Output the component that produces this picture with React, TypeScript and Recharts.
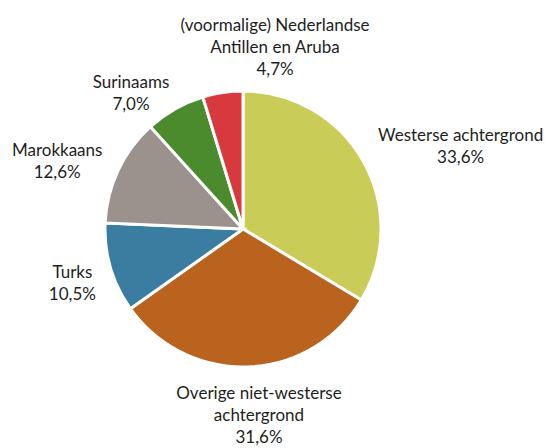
import React from 'react'
import { PieChart, Pie, Cell } from 'recharts'

// categorieën en aandelen (%)
const categories = [
  'Westerse achtergrond',
  'Overige niet-westerse achtergrond',
  'Turks',
  'Marokkaans',
  'Surinaams',
  '(voormalige) Nederlandse Antillen en Aruba'
]
const shares = [33.6, 31.6, 10.5, 12.6, 7.0, 4.7]

// labelregels zoals in het origineel afgebroken
const labelLines = [
  ['Westerse achtergrond'],
  ['Overige niet-westerse', 'achtergrond'],
  ['Turks'],
  ['Marokkaans'],
  ['Surinaams'],
  ['(voormalige) Nederlandse', 'Antillen en Aruba']
]

const colors = ['#c9cc56', '#b9631f', '#3b7da0', '#9b928d', '#4b8a2d', '#d7393f']

// kleine verschuivingen van de labels (px), los van de data
const labelNudge = [
  [14, 0],
  [7, 4],
  [-8, 5],
  [-13, 3],
  [-20, 11],
  [69, -4]
]

const data = categories.map((name, i) => ({ name, value: shares[i] }))

const RADIAN = Math.PI / 180
const LINE_H = 22
const FONT = 'Lato, "Open Sans", sans-serif'

const formatPct = (v: number) => v.toFixed(1).replace('.', ',') + '%'

const renderLabel = (props: any) => {
  const { cx, cy, outerRadius, midAngle, index, value } = props
  const lines = [...labelLines[index], formatPct(value)]
  const dirX = Math.cos(-midAngle * RADIAN)
  const dirY = Math.sin(-midAngle * RADIAN)
  const r = outerRadius + 10
  // ruwe schatting van de labelbox
  const w = Math.max(...lines.map(l => l.length)) * 8.6
  const h = lines.length * LINE_H
  const bx = cx + r * dirX + (dirX * w) / 2 + labelNudge[index][0]
  const by = cy + r * dirY + (dirY * h) / 2 + labelNudge[index][1]
  const top = by - h / 2 + LINE_H / 2
  return (
    <text
      x={bx}
      y={top}
      textAnchor="middle"
      dominantBaseline="central"
      fill="#1e1e1e"
      fontSize={17}
      fontFamily={FONT}
    >
      {lines.map((l, k) => (
        <tspan key={k} x={bx} y={top + k * LINE_H}>
          {l}
        </tspan>
      ))}
    </text>
  )
}

export default function App() {
  return (
    <div style={{ width: 545, height: 448 }}>
      <style>{'body { margin: 0; } svg { overflow: visible; }'}</style>
      <PieChart width={545} height={448} margin={{ top: 0, right: 0, bottom: 0, left: 0 }}>
        <Pie
          data={data}
          dataKey="value"
          nameKey="name"
          cx={243}
          cy={229}
          outerRadius={138}
          startAngle={90}
          endAngle={-270}
          stroke="#ffffff"
          strokeWidth={3}
          labelLine={false}
          label={renderLabel}
          isAnimationActive={false}
        >
          {data.map((d, i) => (
            <Cell key={d.name} fill={colors[i]} />
          ))}
        </Pie>
      </PieChart>
    </div>
  )
}
